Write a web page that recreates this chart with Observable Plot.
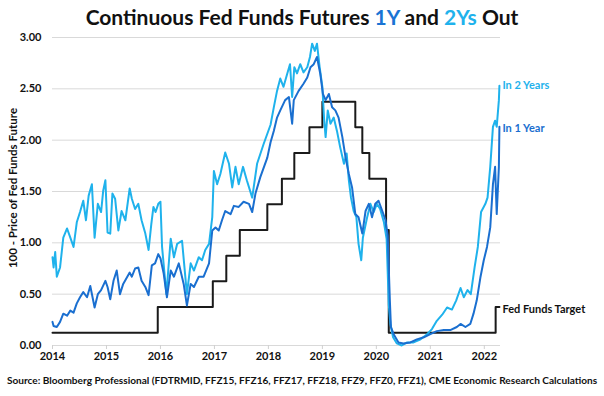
<!DOCTYPE html>
<html>
<head>
<meta charset="utf-8">
<script src="https://cdn.jsdelivr.net/npm/d3@7"></script>
<script src="https://cdn.jsdelivr.net/npm/@observablehq/plot@0.6"></script>
<style>
  html, body { margin: 0; padding: 0; background: #fff; }
  #wrap { position: relative; width: 604px; height: 396px; overflow: hidden; font-family: Lato, "Open Sans", sans-serif; }
  #title { position: absolute; top: 4px; left: 0; width: 604px; text-align: center; font-size: 21px; font-weight: bold; color: #111; }
  #ylab { position: absolute; left: 12px; top: 188px; transform: translate(-50%, -50%) rotate(-90deg); white-space: nowrap; font-size: 11.5px; font-weight: bold; color: #111; }
  #caption { position: absolute; top: 374px; left: 0; width: 604px; text-align: center; font-size: 10.1px; font-weight: bold; color: #111; white-space: nowrap; }
  #chart { position: absolute; top: 0; left: 0; }
</style>
</head>
<body>
<div id="wrap">
  <div id="chart"></div>
  <div id="title">Continuous Fed Funds Futures <span style="color:#1a74d4">1Y</span> and <span style="color:#1fb2ec">2Ys</span> Out</div>
  <div id="ylab">100 - Price of Fed Funds Future</div>
  <div id="caption">Source: Bloomberg Professional (FDTRMID, FFZ15, FFZ16, FFZ17, FFZ18, FFZ9, FFZ0, FFZ1), CME Economic Research Calculations</div>
</div>
<script>
const yearTicks = [2014, 2015, 2016, 2017, 2018, 2019, 2020, 2021, 2022];
const valueTicks = [0, 0.5, 1, 1.5, 2, 2.5, 3];

const dates2y = [2014.00,2014.02,2014.05,2014.08,2014.14,2014.20,2014.27,2014.33,2014.39,2014.45,2014.51,2014.57,2014.62,2014.67,2014.73,2014.78,2014.84,2014.90,2014.94,2014.98,2015.02,2015.07,2015.11,2015.16,2015.22,2015.28,2015.35,2015.43,2015.47,2015.53,2015.59,2015.65,2015.72,2015.78,2015.83,2015.87,2015.91,2015.96,2016.00,2016.03,2016.07,2016.11,2016.19,2016.25,2016.31,2016.40,2016.49,2016.56,2016.62,2016.71,2016.77,2016.83,2016.90,2016.96,2016.99,2017.05,2017.11,2017.20,2017.27,2017.33,2017.39,2017.45,2017.53,2017.60,2017.70,2017.79,2017.91,2018.04,2018.10,2018.16,2018.22,2018.28,2018.35,2018.40,2018.44,2018.48,2018.53,2018.59,2018.65,2018.72,2018.77,2018.81,2018.86,2018.90,2018.95,2019.00,2019.03,2019.06,2019.10,2019.15,2019.21,2019.27,2019.33,2019.40,2019.45,2019.49,2019.53,2019.58,2019.63,2019.67,2019.72,2019.75,2019.83,2019.89,2019.95,2020.01,2020.07,2020.14,2020.19,2020.23,2020.26,2020.31,2020.38,2020.47,2020.57,2020.69,2020.82,2020.94,2021.03,2021.12,2021.22,2021.31,2021.40,2021.48,2021.56,2021.62,2021.69,2021.75,2021.82,2021.88,2021.94,2022.02,2022.06,2022.11,2022.16,2022.20,2022.23,2022.27,2022.28];
const values2y = [0.86,0.76,0.91,0.67,0.76,1.05,1.14,1.05,0.96,1.20,1.30,1.41,1.22,1.46,1.57,1.05,1.38,1.30,1.51,1.61,1.10,1.09,1.48,1.43,1.12,1.31,1.22,1.53,1.43,1.33,1.38,1.22,1.09,0.93,1.18,1.35,1.30,1.38,1.40,0.96,0.73,0.50,1.04,0.86,0.99,1.02,0.50,0.80,0.73,0.86,0.83,0.93,0.99,1.25,1.70,1.57,1.67,1.88,1.77,1.54,1.74,1.57,1.74,1.61,1.44,1.77,1.96,2.15,2.32,2.48,2.60,2.52,2.65,2.74,2.42,2.71,2.65,2.74,2.66,2.71,2.81,2.94,2.87,2.94,2.71,2.52,2.22,2.03,2.29,2.16,2.22,2.09,1.93,1.77,1.87,1.61,1.44,1.31,1.25,0.99,0.83,1.05,1.25,1.38,1.30,1.38,1.33,1.20,1.04,0.40,0.21,0.08,0.02,0.00,0.03,0.03,0.06,0.11,0.16,0.24,0.30,0.37,0.35,0.44,0.56,0.47,0.54,0.50,0.76,0.96,1.30,1.38,1.44,1.74,2.13,2.19,2.13,2.39,2.53];

const dates1y = [2014.00,2014.02,2014.08,2014.14,2014.20,2014.27,2014.33,2014.39,2014.45,2014.51,2014.57,2014.64,2014.70,2014.78,2014.84,2014.90,2014.98,2015.02,2015.07,2015.13,2015.19,2015.25,2015.31,2015.43,2015.47,2015.53,2015.59,2015.65,2015.72,2015.78,2015.84,2015.90,2015.96,2016.00,2016.06,2016.12,2016.19,2016.25,2016.34,2016.43,2016.49,2016.56,2016.62,2016.71,2016.80,2016.90,2016.96,2017.02,2017.08,2017.14,2017.20,2017.30,2017.36,2017.45,2017.54,2017.64,2017.70,2017.76,2017.85,2017.98,2018.04,2018.10,2018.16,2018.22,2018.31,2018.38,2018.44,2018.47,2018.56,2018.65,2018.72,2018.78,2018.84,2018.90,2018.96,2019.01,2019.06,2019.12,2019.18,2019.24,2019.30,2019.37,2019.43,2019.49,2019.55,2019.61,2019.67,2019.74,2019.80,2019.86,2019.92,2019.98,2020.04,2020.11,2020.17,2020.21,2020.25,2020.27,2020.32,2020.41,2020.50,2020.63,2020.75,2020.88,2021.00,2021.12,2021.25,2021.37,2021.49,2021.56,2021.65,2021.74,2021.80,2021.86,2021.93,2021.99,2022.05,2022.11,2022.16,2022.20,2022.23,2022.27,2022.28];
const values1y = [0.23,0.19,0.18,0.23,0.31,0.29,0.34,0.32,0.41,0.47,0.52,0.47,0.58,0.37,0.50,0.54,0.63,0.57,0.45,0.63,0.73,0.50,0.60,0.71,0.67,0.75,0.76,0.63,0.57,0.49,0.78,0.80,0.89,0.85,0.70,0.47,0.73,0.67,0.80,0.60,0.39,0.60,0.57,0.67,0.67,0.80,1.12,1.15,1.12,1.22,1.31,1.28,1.36,1.35,1.40,1.38,1.30,1.48,1.64,1.83,1.98,2.09,2.22,2.29,2.39,2.42,2.16,2.39,2.48,2.55,2.61,2.71,2.74,2.81,2.65,2.45,2.39,2.45,2.32,2.29,2.22,2.03,1.83,1.67,1.54,1.28,1.25,1.09,1.31,1.38,1.25,1.38,1.41,1.31,1.22,1.07,0.44,0.18,0.11,0.03,0.02,0.03,0.06,0.08,0.11,0.14,0.15,0.15,0.18,0.21,0.18,0.21,0.31,0.44,0.67,0.83,0.96,1.15,1.57,1.74,1.28,1.74,2.13];

const fedDates = [2014.0,2015.95,2016.97,2017.22,2017.47,2017.98,2018.25,2018.48,2018.76,2019.0,2019.61,2019.74,2019.87,2020.18,2020.23,2022.21,2022.28];
const fedValues = [0.125,0.375,0.625,0.875,1.125,1.375,1.625,1.875,2.125,2.375,2.125,1.875,1.625,1.125,0.125,0.375,0.375];

const seriesLabels = ["In 2 Years", "In 1 Year", "Fed Funds Target"];
const labelValues = [2.53, 2.11, 0.35];
const labelColors = ["#1fb2ec", "#1a6fd0", "#111"];

const s2 = dates2y.map((d, i) => ({t: d, v: values2y[i]}));
const s1 = dates1y.map((d, i) => ({t: d, v: values1y[i]}));
const fed = fedDates.map((d, i) => ({t: d, v: fedValues[i]}));
const lastT = dates2y[dates2y.length - 1];
const labels = seriesLabels.map((s, i) => ({t: lastT, v: labelValues[i], s, c: labelColors[i]}));

const chart = Plot.plot({
  width: 604,
  height: 396,
  marginLeft: 52,
  marginRight: 104,
  marginTop: 37,
  marginBottom: 51,
  style: {fontFamily: "Lato, 'Open Sans', sans-serif", fontSize: "11px", fontWeight: "bold", color: "#111", background: "transparent"},
  x: {domain: [2014, 2022.3]},
  y: {domain: [0, 3]},
  marks: [
    Plot.gridY(valueTicks, {stroke: "#d9d9d9", strokeOpacity: 1}),
    Plot.axisY(valueTicks, {tickSize: 0, tickPadding: 11, tickFormat: d => d.toFixed(2), label: null, fill: "#111"}),
    Plot.axisX(yearTicks, {tickSize: 4, tickPadding: 3, tickFormat: d => String(d), label: null, stroke: "#d0d0d0", fill: "#111"}),
    Plot.line(fed, {x: "t", y: "v", curve: "step-after", stroke: "#1a1a1a", strokeWidth: 2}),
    Plot.line(s2, {x: "t", y: "v", stroke: "#1fb2ec", strokeWidth: 2}),
    Plot.line(s1, {x: "t", y: "v", stroke: "#1a6fd0", strokeWidth: 2}),
    Plot.text(labels, {x: "t", y: "v", text: "s", fill: "c", textAnchor: "start", dx: 3, fontSize: 11, fontWeight: "bold"})
  ]
});
document.getElementById("chart").appendChild(chart);
</script>
</body>
</html>
